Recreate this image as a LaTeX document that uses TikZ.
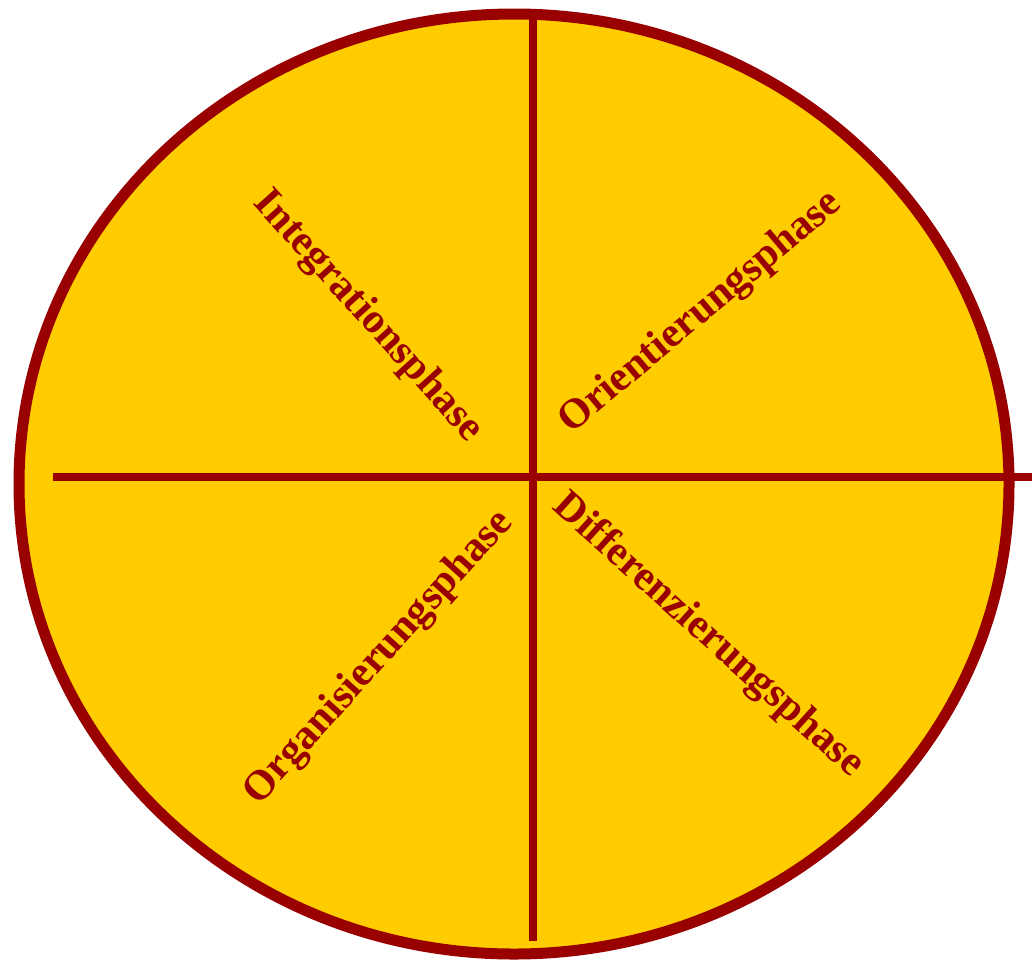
\documentclass[tikz,border=0pt]{standalone}
\usepackage{fontspec}
\setmainfont{Liberation Serif}
\definecolor{gold}{HTML}{FFCC00}
\definecolor{dred}{HTML}{990000}
\begin{document}
\begin{tikzpicture}[x=1pt,y=-1pt,
  phase/.style={text=dred,font=\fontsize{42}{48}\selectfont\bfseries,inner sep=0pt},
  axis/.style={draw=dred,line width=8pt}]
\useasboundingbox (0,0) rectangle (1032,959);
\draw[fill=gold,draw=dred,line width=11pt] (514,484) ellipse [x radius=495,y radius=470];
\coordinate (vt) at (533,13);
\coordinate (vb) at (533,941);
\coordinate (hl) at (53,477);
\coordinate (hr) at (1040,477);
\draw[axis] (vt) -- (vb);
\draw[axis] (hl) -- (hr);
\node[phase,rotate=-48] (int) at (368,317) {Integrationsphase};
\node[phase,rotate=40] (ori) at (701,313) {Orientierungsphase};
\node[phase,rotate=-42] (dif) at (708,636) {Differenzierungsphase};
\node[phase,rotate=48] (org) at (379,658) {Organisierungsphase};
\end{tikzpicture}
\end{document}
